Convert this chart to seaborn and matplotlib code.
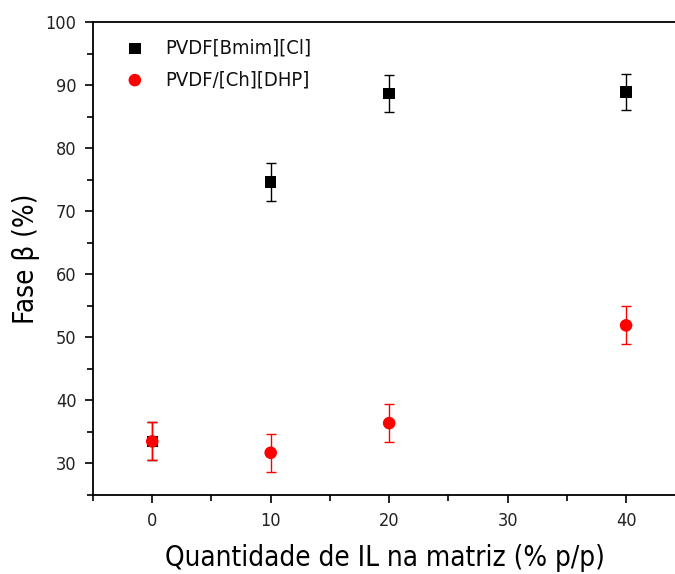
import matplotlib
matplotlib.use("Agg")
import matplotlib.pyplot as plt
import seaborn as sns
import pandas as pd
from matplotlib.ticker import MultipleLocator

sns.set_theme(style="ticks")
plt.rcParams['font.family'] = ['DejaVu Sans']
plt.rcParams['font.stretch'] = 'condensed'

il_content = [0, 10, 20, 40]
beta_bmim = [33.5, 74.6, 88.7, 88.9]
err_bmim = [3.0, 3.0, 2.9, 2.9]
beta_ch = [33.5, 31.7, 36.4, 51.9]
err_ch = [3.0, 3.0, 3.0, 3.0]
series_names = ["PVDF[Bmim][Cl]", "PVDF/[Ch][DHP]"]

df = pd.DataFrame({
    "x": il_content + il_content,
    "y": beta_bmim + beta_ch,
    "err": err_bmim + err_ch,
    "serie": [series_names[0]] * 4 + [series_names[1]] * 4,
})

fig = plt.figure(figsize=(6.75, 5.74), dpi=100)
ax = fig.add_axes([0.1378, 0.1376, 0.8652, 0.8241])

colors = {series_names[0]: "black", series_names[1]: "#ff0000"}
markers = {series_names[0]: "s", series_names[1]: "o"}
sizes = {series_names[0]: 68, series_names[1]: 82}

for name in series_names:
    sub = df[df.serie == name]
    ax.errorbar(sub.x, sub.y, yerr=sub.err, fmt="none", ecolor=colors[name],
                elinewidth=1.0, capsize=3.4, capthick=1.0, zorder=2)

for name in series_names:
    sub = df[df.serie == name]
    sns.scatterplot(data=sub, x="x", y="y", ax=ax, color=colors[name],
                    marker=markers[name], s=sizes[name], edgecolor="none",
                    label=name, zorder=3)

ax.set_xlim(-5, 44.3)
ax.set_ylim(25, 100)
ax.xaxis.set_major_locator(MultipleLocator(10))
ax.xaxis.set_minor_locator(MultipleLocator(5))
ax.yaxis.set_major_locator(MultipleLocator(10))
ax.yaxis.set_minor_locator(MultipleLocator(5))
ax.set_yticks([30, 40, 50, 60, 70, 80, 90, 100])

ax.spines['right'].set_visible(False)
for s in ['left', 'bottom', 'top']:
    ax.spines[s].set_linewidth(1.3)
    ax.spines[s].set_color("black")

ax.tick_params(axis='both', which='major', direction='out', length=6, width=1.2,
               labelsize=13, colors='black', labelcolor='#222222', pad=6)
ax.tick_params(axis='both', which='minor', direction='out', length=4, width=1.2,
               colors='black')
ax.tick_params(top=False, right=False, which='both')

ax.set_xlabel("Quantidade de IL na matriz (% p/p)", fontsize=20, labelpad=10, color='black')
ax.set_ylabel("Fase β (%)", fontsize=20, labelpad=4, color='black')

leg = ax.legend(loc="upper left", bbox_to_anchor=(0.013, 0.994), frameon=False,
                fontsize=14.5, handletextpad=0.5, borderaxespad=0.3, labelspacing=0.62,
                markerscale=1.0, handlelength=2.0)
for t in leg.get_texts():
    t.set_color('#111111')

fig.savefig("out.png", dpi=100)
